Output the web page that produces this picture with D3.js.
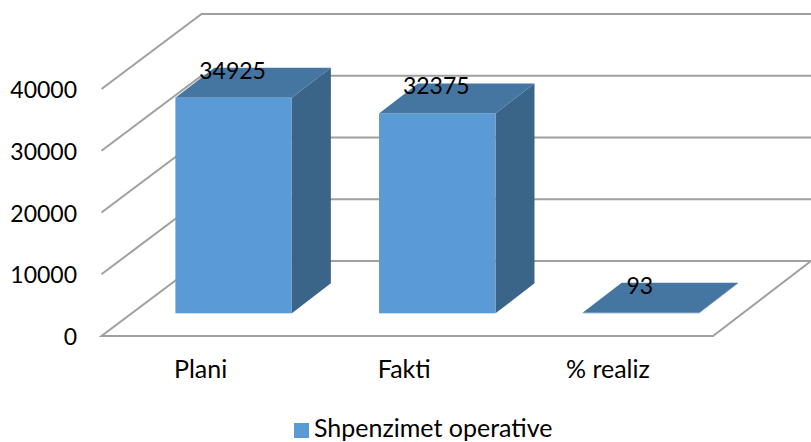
<!DOCTYPE html>
<html><head><meta charset="utf-8">
<script src="https://cdn.jsdelivr.net/npm/d3@7/dist/d3.min.js"></script>
<style>html,body{margin:0;padding:0;background:#fff}svg{display:block}text{font-family:Lato,sans-serif;fill:#000}</style>
</head><body><svg id="c" width="811" height="442"></svg>
<script>
const categories = ["Plani", "Fakti", "% realiz"];
const values = [34925, 32375, 93];
const yTicks = [0, 10000, 20000, 30000, 40000];
const seriesName = "Shpenzimet operative";

const svg = d3.select("#c");
const y = d3.scaleLinear().domain([0, 40000]).range([336, 89]);
const floorLeft = 101.5, floorRight = 713;
const depthX = 100, depthY = -75;          // full depth of the 3D box
const barOffX = 30, barOffY = -22.7;       // where a bar's front face sits
const barDX = 39, barDY = -30;             // depth of a bar
const x = d3.scaleBand().domain(categories)
  .range([floorLeft + barOffX, floorRight + barOffX]).paddingInner(0.428).paddingOuter(0.2155);
const h = v => y(0) - y(v);
const pts = a => a.map(p => p.join(",")).join(" ");
const grid = "#a0a0a0", face = "#5b9bd5", topC = "#4575a1", side = "#3a6488";

// floor
svg.append("polygon")
  .attr("points", pts([[floorLeft, y(0)], [floorRight, y(0)], [floorRight + depthX - 2, y(0) + depthY], [floorLeft + depthX, y(0) + depthY]]))
  .attr("fill", "none").attr("stroke", grid).attr("stroke-width", 2);
// grid lines on the side and back walls
svg.append("g").selectAll("polyline").data(yTicks.slice(1)).join("polyline")
  .attr("points", d => pts([[floorLeft, y(d)], [floorLeft + depthX, y(d) + depthY], [floorRight + depthX, y(d) + depthY]]))
  .attr("fill", "none").attr("stroke", grid).attr("stroke-width", 2);

// bars
const bars = svg.append("g").selectAll("g").data(values).join("g")
  .attr("transform", (d, i) => `translate(${x(categories[i])},${y(0) + barOffY})`);
const w = x.bandwidth();
bars.append("polygon").attr("fill", side)
  .attr("points", d => pts([[w, 0], [w + barDX, barDY], [w + barDX, barDY - h(d)], [w, -h(d)]]));
bars.append("polygon").attr("fill", topC)
  .attr("points", d => pts([[0, -h(d)], [barDX, barDY - h(d)], [w + barDX, barDY - h(d)], [w, -h(d)]]));
bars.append("rect").attr("fill", face).attr("x", 0).attr("width", w)
  .attr("y", d => -h(d)).attr("height", d => h(d));
bars.append("text").attr("x", w / 2 - 1).attr("y", d => -h(d) - 19)
  .attr("text-anchor", "middle").attr("font-size", 23).text(d => d);

// value axis labels
svg.append("g").selectAll("text").data(yTicks).join("text")
  .attr("x", 77).attr("y", d => y(d) + 9).attr("text-anchor", "end")
  .attr("font-size", 23).text(d => d);

// category labels
svg.append("g").selectAll("text").data(categories).join("text")
  .attr("x", d => x(d) + w / 2 - 33).attr("y", 378)
  .attr("text-anchor", "middle").attr("font-size", 25).text(d => d);

// legend
svg.append("rect").attr("x", 294).attr("y", 423).attr("width", 15).attr("height", 15).attr("fill", face);
svg.append("text").attr("x", 314).attr("y", 437).attr("font-size", 25).text(seriesName);
</script></body></html>
